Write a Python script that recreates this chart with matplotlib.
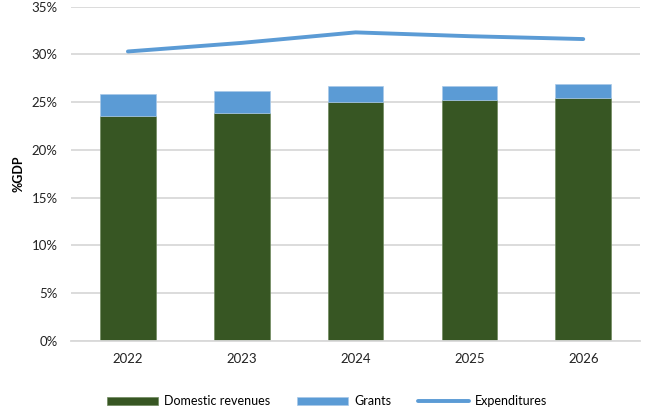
import numpy as np
import matplotlib.pyplot as plt
from matplotlib.ticker import PercentFormatter

plt.rcParams['font.family'] = ['Lato', 'DejaVu Sans']

# Données (% du PIB)
years = ['2022', '2023', '2024', '2025', '2026']
domestic = [23.5, 23.9, 25.0, 25.2, 25.4]
grants = [2.35, 2.3, 1.7, 1.5, 1.5]
expenditures = [30.3, 31.2, 32.3, 31.9, 31.6]

green = '#375623'
blue = '#5B9BD5'

fig = plt.figure(figsize=(6.49, 4.13), dpi=100)
ax = fig.add_axes([0.1094, 0.175, 0.877, 0.809])

x = np.arange(len(years))
b1 = ax.bar(x, domestic, width=0.49, color=green, edgecolor='#6f8a5f', linewidth=0.5,
            label='Domestic revenues', zorder=2)
b2 = ax.bar(x, grants, width=0.49, bottom=domestic, color=blue, edgecolor='#a9c9e8',
            linewidth=0.5, label='Grants', zorder=2)
l1, = ax.plot(x, expenditures, color=blue, linewidth=2.8, solid_capstyle='round',
              label='Expenditures', zorder=3)

ax.set_xlim(-0.5, len(years) - 0.5)
ax.set_ylim(0, 35)
ax.set_yticks(np.arange(0, 36, 5))
ax.yaxis.set_major_formatter(PercentFormatter(decimals=0))
ax.set_xticks(x)
ax.set_xticklabels(years)
ax.tick_params(axis='both', length=0, labelsize=9.5, colors='#222222')
ax.tick_params(axis='x', pad=9)
ax.tick_params(axis='y', pad=9.5)

ax.grid(axis='y', color='#d9d9d9', linewidth=1.3, zorder=0)
ax.set_axisbelow(True)
for s in ['top', 'right', 'left']:
    ax.spines[s].set_visible(False)
ax.spines['bottom'].set_color('#d9d9d9')
ax.spines['bottom'].set_linewidth(1.3)

ax.set_ylabel('%GDP', fontsize=9, fontweight='bold')
ax.yaxis.set_label_coords(-0.082, 0.5)

ax.legend([b1, b2, l1], ['Domestic revenues', 'Grants', 'Expenditures'],
          loc='upper center', bbox_to_anchor=(0.45, -0.13), ncol=3, frameon=False,
          fontsize=9, handlelength=4.1, handleheight=0.7, columnspacing=2.1,
          handletextpad=0.5)

plt.savefig('out.png', dpi=100)
